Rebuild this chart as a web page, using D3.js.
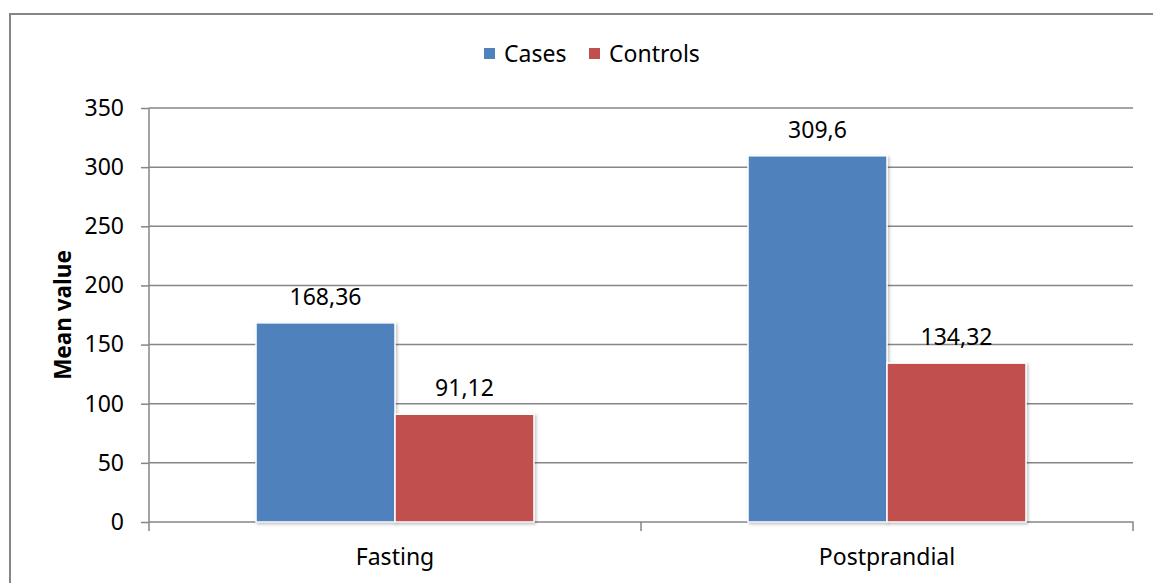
<!DOCTYPE html>
<html><head><meta charset="utf-8">
<script src="https://cdn.jsdelivr.net/npm/d3@7"></script>
<style>body{margin:0;background:#fff}svg{display:block;font-family:"Noto Sans","Open Sans",sans-serif}</style>
</head><body>
<script>
const categories = ["Fasting", "Postprandial"];
const seriesNames = ["Cases", "Controls"];
const casesValues = [168.36, 309.6];
const controlsValues = [91.12, 134.32];
const valueLabels = [["168,36", "309,6"], ["91,12", "134,32"]];
const yTicks = [0, 50, 100, 150, 200, 250, 300, 350];
const colors = ["#4F81BD", "#C0504D"];

(function () {
const W = 1153, H = 583, FS = 23;
const svg = d3.select("body").append("svg").attr("width", W).attr("height", H);
const defs = svg.append("defs");
const f = defs.append("filter").attr("id", "sh").attr("x", "-10%").attr("y", "-10%").attr("width", "130%").attr("height", "130%");
f.append("feDropShadow").attr("dx", 1.5).attr("dy", 1.5).attr("stdDeviation", 1.5).attr("flood-color", "#000").attr("flood-opacity", 0.25);

svg.append("rect").attr("x", 10).attr("y", 14).attr("width", 1160).attr("height", 600)
  .attr("fill", "none").attr("stroke", "#868686").attr("stroke-width", 2);

const pLeft = 149, pRight = 1133, pTop = 108, pBottom = 522;
const y = d3.scaleLinear().domain([0, 350]).range([pBottom, pTop]);
const x0 = d3.scaleBand().domain(categories).range([pLeft, pRight]).padding(0);
const x1 = d3.scaleBand().domain(seriesNames).range([0, x0.bandwidth()]).paddingInner(0).paddingOuter(0.77);

// gridlines
svg.append("g").selectAll("line").data(yTicks.filter(d => d > 0)).join("line")
  .attr("x1", pLeft).attr("x2", pRight).attr("y1", d => y(d)).attr("y2", d => y(d))
  .attr("stroke", "#868686").attr("stroke-width", 1.5);

// y axis
const yAxis = svg.append("g").attr("transform", `translate(${pLeft},0)`)
  .call(d3.axisLeft(y).tickValues(yTicks).tickSize(8).tickPadding(17).tickFormat(d3.format("d")));
yAxis.select(".domain").attr("stroke", "#868686").attr("stroke-width", 1.5).attr("d", `M0,${pTop}V${pBottom + 9}`);
yAxis.selectAll(".tick line").attr("stroke", "#868686").attr("stroke-width", 1.5);
yAxis.selectAll(".tick text").attr("font-size", FS).attr("fill", "#000").attr("font-family", "Noto Sans");

// x axis
const xAxis = svg.append("g").attr("transform", `translate(0,${pBottom})`)
  .call(d3.axisBottom(x0).tickSize(0).tickPadding(27));
xAxis.select(".domain").attr("stroke", "#868686").attr("stroke-width", 1.5).attr("d", `M${pLeft},0H${pRight}V9`);
xAxis.selectAll(".tick text").attr("font-size", FS).attr("fill", "#000").attr("font-family", "Noto Sans");
svg.append("g").selectAll("line").data([categories[1]]).join("line")
  .attr("x1", d => x0(d)).attr("x2", d => x0(d)).attr("y1", pBottom).attr("y2", pBottom + 9)
  .attr("stroke", "#868686").attr("stroke-width", 1.5);

// bars
const seriesValues = [casesValues, controlsValues];
seriesNames.forEach((s, si) => {
  const g = svg.append("g");
  g.selectAll("rect").data(categories).join("rect")
    .attr("x", c => x0(c) + x1(s))
    .attr("y", (c, i) => y(seriesValues[si][i]))
    .attr("width", x1.bandwidth())
    .attr("height", (c, i) => pBottom - y(seriesValues[si][i]))
    .attr("fill", colors[si]).attr("stroke", "#fff").attr("stroke-width", 1.5)
    .attr("filter", "url(#sh)");
  g.selectAll("text").data(categories).join("text")
    .attr("x", c => x0(c) + x1(s) + x1.bandwidth() / 2)
    .attr("y", (c, i) => y(seriesValues[si][i]) - 18)
    .attr("text-anchor", "middle").attr("font-size", FS).attr("fill", "#000")
    .text((c, i) => valueLabels[si][i]);
});

// y title
svg.append("text").attr("transform", `translate(71,${(pTop + pBottom) / 2}) rotate(-90)`)
  .attr("text-anchor", "middle").attr("font-size", 22.5).attr("font-weight", "bold").text("Mean value");

// legend
const leg = svg.append("g");
const legX = [484, 589];
seriesNames.forEach((s, i) => {
  leg.append("rect").attr("x", legX[i]).attr("y", 48).attr("width", 11).attr("height", 11).attr("fill", colors[i]);
  leg.append("text").attr("x", legX[i] + 20).attr("y", 62).attr("font-size", FS).text(s);
});
})();
</script>
</body></html>
